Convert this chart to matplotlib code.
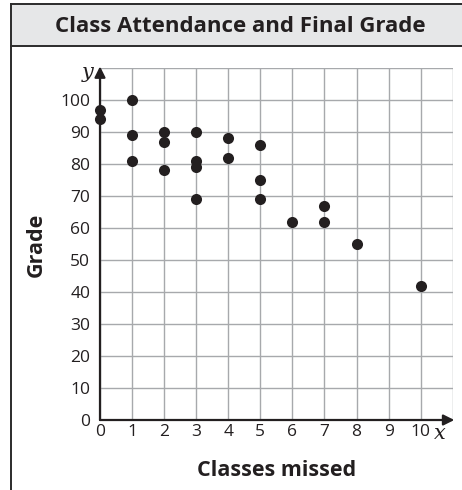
"""Class attendance vs final grade scatter."""

import matplotlib.pyplot as plt
from matplotlib.lines import Line2D
from matplotlib.patches import Rectangle

plt.rcParams["font.family"] = ["Open Sans", "DejaVu Sans"]

title = "Class Attendance and Final Grade"
x_label = "Classes missed"
y_label = "Grade"

classes_missed = [0, 0, 1, 1, 1, 2, 2, 2, 3, 3, 3, 3, 4, 4, 5, 5, 5, 6, 7, 7, 8, 10]
grades = [97, 94, 100, 89, 81, 90, 87, 78, 90, 81, 79, 69, 88, 82, 86, 75, 69, 62, 67, 62, 55, 42]

x_ticks = list(range(0, 11))
y_ticks = list(range(0, 101, 10))

W, H = 462, 490
fig = plt.figure(figsize=(W / 100, H / 100), dpi=100)

# frame and title band
fig.patches.append(Rectangle((11 / W, 1 - 46 / H), 1 - 11 / W, 42 / H,
                             transform=fig.transFigure, facecolor="#e6e7e8",
                             edgecolor="none", zorder=0))
for xs, ys in [([11, 11], [4, H]), ([11, W], [4, 4]), ([11, W], [46, 46])]:
    fig.lines.append(Line2D([v / W for v in xs], [1 - v / H for v in ys],
                            transform=fig.transFigure, color="#2b2b2b", lw=1.4))
fig.text(240 / W, 1 - 27 / H, title, ha="center", va="center",
         fontsize=16, fontweight="bold", color="#231f20")

ax = fig.add_axes([100 / W, 70 / H, 352.7 / W, 352 / H])
ax.set_xlim(0, 11)
ax.set_ylim(0, 110)
ax.set_xticks(range(0, 12))
ax.set_yticks(range(0, 111, 10))
ax.grid(True, color="#a7a9ac", lw=1.0)
ax.set_axisbelow(True)
for s in ax.spines.values():
    s.set_visible(False)
ax.tick_params(length=0, labelsize=12.5, colors="#231f20")
ax.tick_params(axis="y", pad=7)
ax.tick_params(axis="x", pad=3)
ax.set_xticklabels([str(t) if t in x_ticks else "" for t in range(0, 12)])
ax.set_yticklabels([str(t) if t in y_ticks else "" for t in range(0, 111, 10)])

# axes with arrows
ax.annotate("", xy=(11.05, 0), xytext=(0, 0),
            arrowprops=dict(arrowstyle="-|>", color="#231f20", lw=1.6,
                            mutation_scale=16, shrinkA=0, shrinkB=0),
            annotation_clip=False)
ax.annotate("", xy=(0, 110.5), xytext=(0, 0),
            arrowprops=dict(arrowstyle="-|>", color="#231f20", lw=1.6,
                            mutation_scale=16, shrinkA=0, shrinkB=0),
            annotation_clip=False)
ax.text(10.6, -4.3, "x", ha="center", va="center", fontsize=15,
        style="italic", family="DejaVu Serif", color="#231f20")
ax.text(-0.38, 108.5, "y", ha="center", va="center", fontsize=15,
        style="italic", family="DejaVu Serif", color="#231f20")

ax.scatter(classes_missed, grades, s=64, color="#231f20", zorder=5,
           clip_on=False, linewidths=0)

fig.text(277 / W, 1 - 470 / H, x_label, ha="center", va="center",
         fontsize=15.5, fontweight="bold", color="#231f20")
fig.text(36 / W, 1 - 245 / H, y_label, ha="center", va="center",
         rotation=90, fontsize=15.5, fontweight="bold", color="#231f20")

fig.savefig("out.png", dpi=100)
